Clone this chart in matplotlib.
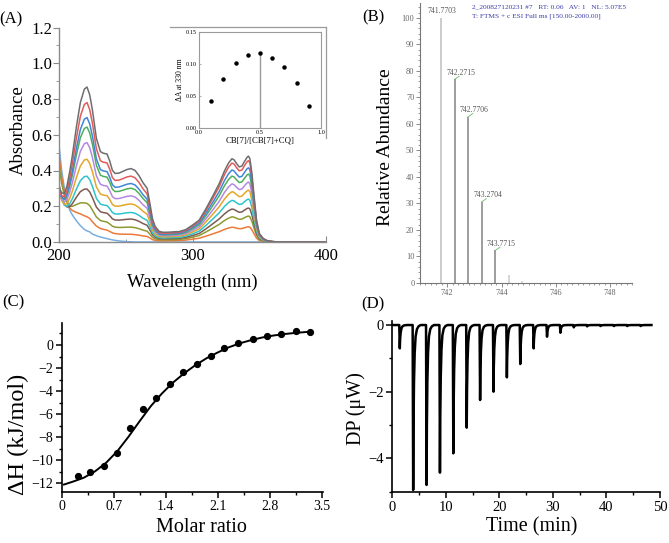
import numpy as np
import matplotlib
matplotlib.use("Agg")
import matplotlib.pyplot as plt
from matplotlib.lines import Line2D
from matplotlib.ticker import MultipleLocator

plt.rcParams['font.family'] = ['Liberation Serif', 'DejaVu Serif']
plt.rcParams['mathtext.fontset'] = 'stix'

W, H = 669, 543

# ---------------- Panel A data: UV-vis titration spectra ----------------
wavelength = [200, 202, 204, 206, 208, 210, 213, 216, 219, 221, 223, 225, 228, 231, 233, 236,
              238, 240, 242, 245, 248, 251, 254, 257, 260, 263, 266, 268, 270, 272, 275, 278,
              282, 286, 290, 295, 300, 305, 310, 315, 320, 324, 327, 329.5, 331, 333, 335, 337,
              339, 341, 342, 343, 344.5, 346, 348, 350, 353, 356, 360, 365, 370, 380, 390, 400]
# band profile of the 200-280 nm absorption (peak = 1)
uv_band = [0.27, 0.26, 0.27, 0.33, 0.43, 0.54, 0.73, 0.895, 0.985, 1.0, 0.95, 0.855, 0.67, 0.585,
           0.575, 0.57, 0.525, 0.465, 0.445, 0.448, 0.46, 0.472, 0.478, 0.466, 0.431, 0.385, 0.35,
           0.256, 0.152, 0.099, 0.064, 0.052, 0.047, 0.044, 0.04, 0.025, 0.015, 0.008, 0.003, 0,
           0, 0, 0, 0, 0, 0, 0, 0, 0, 0, 0, 0, 0, 0, 0, 0, 0, 0, 0, 0, 0, 0, 0, 0]
# band profile of the 300-360 nm absorption (peak = 1)
vis_band = [0, 0, 0, 0, 0, 0, 0, 0, 0, 0, 0, 0, 0, 0, 0, 0, 0, 0, 0, 0, 0, 0, 0, 0, 0, 0, 0, 0, 0,
            0.005, 0.01, 0.02, 0.03, 0.04, 0.05, 0.10, 0.17, 0.24, 0.38, 0.53, 0.68, 0.83, 0.92,
            0.97, 0.96, 0.915, 0.875, 0.885, 0.94, 0.99, 1.0, 0.97, 0.80, 0.55, 0.25, 0.10, 0.04,
            0.015, 0.005, 0, 0, 0, 0, 0]
# short-wavelength edge profile (bottom trace, value at 200 nm = 1)
edge_band = [1.0, 0.74, 0.56, 0.43, 0.33, 0.28, 0.22, 0.17, 0.13, 0.115, 0.105, 0.083, 0.065, 0.052,
             0.045, 0.035, 0.028, 0.022, 0.017, 0.011, 0.007, 0.004, 0.002, 0, 0, 0, 0, 0, 0, 0,
             0, 0, 0, 0, 0, 0, 0, 0, 0, 0, 0, 0, 0, 0, 0, 0, 0, 0, 0, 0, 0, 0, 0, 0, 0, 0, 0, 0,
             0, 0, 0, 0, 0, 0]
uv_peak = [0.0, 0.141, 0.216, 0.296, 0.368, 0.463, 0.556, 0.643, 0.696, 0.78, 0.867]
vis_peak = [0.0, 0.085, 0.145, 0.19, 0.24, 0.29, 0.335, 0.38, 0.415, 0.455, 0.48]
edge_amp = [0.54, 0.46, 0.38, 0.25, 0.20, 0.16, 0.14, 0.12, 0.10, 0.08, 0.07]
curve_colors = ['#79aee0', '#ec7a3a', '#8e9a30', '#7e5b52', '#2ec4cc', '#e3a72a',
                '#b488e4', '#4fae5c', '#3f86d8', '#e35a5a', '#6e6e6e']

# inset: Job plot
mole_fraction = [0.1, 0.2, 0.3, 0.4, 0.5, 0.6, 0.7, 0.8, 0.9]
delta_A = [0.042, 0.076, 0.101, 0.114, 0.117, 0.110, 0.095, 0.071, 0.035]

# ---------------- Panel B data: HRMS ----------------
mz = [741.7703, 742.2715, 742.7706, 743.2704, 743.7715, 744.27, 744.77]
abundance = [100, 76.8, 62.7, 30.6, 12.3, 3.0, 0.8]
mz_labels = ['741.7703', '742.2715', '742.7706', '743.2704', '743.7715', '', '']
ms_header = ['2_200827120231 #7   RT: 0.06   AV: 1   NL: 5.07E5',
             'T: FTMS + c ESI Full ms [150.00-2000.00]']

# ---------------- Panel C data: ITC integrated heats ----------------
molar_ratio = [0.215, 0.38, 0.57, 0.74, 0.92, 1.09, 1.27, 1.46, 1.63, 1.82, 2.01, 2.19,
               2.38, 2.57, 2.76, 2.95, 3.15, 3.34]
dH = [-11.36, -10.99, -10.47, -9.34, -7.23, -5.52, -4.63, -3.38, -2.37, -1.62, -0.93, -0.26,
      0.14, 0.52, 0.81, 0.98, 1.19, 1.16]
fit_ratio = [0.03, 0.15, 0.3, 0.45, 0.6, 0.75, 0.9, 1.05, 1.2, 1.35, 1.5, 1.65, 1.8, 1.95,
             2.1, 2.25, 2.4, 2.55, 2.7, 2.85, 3.0, 3.15, 3.34]
fit_dH = [-12.1, -11.85, -11.5, -10.95, -10.2, -9.2, -7.95, -6.6, -5.3, -4.2, -3.25, -2.45,
          -1.75, -1.15, -0.65, -0.2, 0.15, 0.42, 0.65, 0.82, 0.95, 1.05, 1.15]

# ---------------- Panel D data: ITC raw thermogram ----------------
inj_time = [1.3, 3.8, 6.3, 8.8, 11.3, 13.8, 16.3, 18.8, 21.3, 23.8, 26.3, 28.8, 31.3,
            33.8, 36.3, 38.8, 41.3, 43.8, 46.3]
inj_depth = [0.70, 4.95, 4.80, 4.43, 3.85, 3.08, 2.25, 2.00, 1.57, 1.17, 0.70, 0.35, 0.23,
             0.07, 0.04, 0.03, 0.03, 0.03, 0.03]
peak_dt = [0, 0.04, 0.1, 0.16, 0.25, 0.38, 0.55, 0.8, 1.1, 1.5]
peak_frac = [0, 0.5, 1.0, 0.62, 0.35, 0.17, 0.07, 0.025, 0.008, 0]
run_end = 48.4


def rect(l, t, r, b):
    return [l / W, 1 - b / H, (r - l) / W, (b - t) / H]


def fx(x):
    return x / W


def fy(y):
    return 1 - y / H


fig = plt.figure(figsize=(W / 100, H / 100), dpi=100)

# ======================= Panel A =======================
gray = '#8a8a8a'
axA = fig.add_axes(rect(59, 27.5, 326, 242))
wl = np.array(wavelength)
UV = np.array(uv_band)
VIS = np.array(vis_band)
EDGE = np.array(edge_band)
i_pk = wavelength.index(221)
for up, vp, ea, c in zip(uv_peak, vis_peak, edge_amp, curve_colors):
    h1 = max(up - ea * EDGE[i_pk], 0)
    axA.plot(wl, h1 * UV + vp * VIS + ea * EDGE, color=c, lw=1.1)
axA.set_xlim(200, 400)
axA.set_ylim(0, 1.2)
for s in ['top', 'right']:
    axA.spines[s].set_visible(False)
for s in ['left', 'bottom']:
    axA.spines[s].set_color(gray)
    axA.spines[s].set_linewidth(1.0)
axA.set_xticks([200, 300, 400])
axA.xaxis.set_minor_locator(MultipleLocator(50))
axA.set_yticks([0, 0.2, 0.4, 0.6, 0.8, 1.0, 1.2])
axA.set_yticklabels(['0.0', '0.2', '0.4', '0.6', '0.8', '1.0', '1.2'])
axA.yaxis.set_minor_locator(MultipleLocator(0.1))
axA.tick_params(axis='both', which='major', labelsize=12, color=gray, length=4, pad=1)
axA.tick_params(axis='both', which='minor', color=gray, length=2.5)
axA.tick_params(axis='x', which='both', direction='in', pad=4)
fig.text(fx(18), fy(130), 'Absorbance', rotation=90, ha='center', va='center', fontsize=13.5)
fig.text(fx(192), fy(282), 'Wavelength (nm)', ha='center', va='center', fontsize=13.5)
fig.text(fx(11), fy(19), '(A)', ha='center', va='center', fontsize=12)

# inset
ins = fig.add_axes(rect(199, 32, 321, 128))
ins.vlines(0.5, 0, delta_A[4], color='#9a9a9a', lw=1.0)
ins.plot(mole_fraction, delta_A, 'o', color='black', ms=2.2, ls='none')
ins.set_xlim(0, 1.0)
ins.set_ylim(0, 0.15)
ins.set_xticks([0, 0.5, 1.0])
ins.set_xticklabels(['0.0', '0.5', '1.0'])
ins.set_yticks([0, 0.05, 0.10, 0.15])
ins.set_yticklabels(['0.00', '0.05', '0.10', '0.15'])
ins.tick_params(labelsize=4.5, length=1.5, width=0.5, color=gray, direction='in', pad=1.5)
for s in ins.spines.values():
    s.set_color('#9a9a9a')
    s.set_linewidth(0.8)
ins.set_xlabel('CB[7]/[CB[7]+CQ]', fontsize=6.3, labelpad=1)
ins.set_ylabel('ΔA at 330 nm', fontsize=5.5, labelpad=1.5)
fig.add_artist(Line2D([fx(170), fx(326)], [fy(26.7), fy(26.7)], color='#9a9a9a', lw=0.9))
fig.add_artist(Line2D([fx(326), fx(326)], [fy(26.7), fy(138)], color='#9a9a9a', lw=0.9))

# ======================= Panel B =======================
axB = fig.add_axes(rect(420, 3, 632, 283))
bcol = ['#c4c4c4', '#8c8c8c', '#8c8c8c', '#8c8c8c', '#8c8c8c', '#cfcfcf', '#d5d5d5']
axB.vlines(mz, 0, abundance, colors=bcol, lw=1.2)
for i, (m, a, lab) in enumerate(zip(mz, abundance, mz_labels)):
    if not lab:
        continue
    off = 0.04 if i == 0 else 0.22
    if i > 0:
        axB.plot([m, m + 0.17], [a, a + 1.2], color='#66bb66', lw=0.6)
    axB.text(m + off, a + 1.0, lab, ha='center', va='bottom', fontsize=5.5, color='#555555')
axB.set_xlim(741.0, 748.8)
axB.set_ylim(0, 105.6)
for s in ['top', 'right']:
    axB.spines[s].set_visible(False)
for s in ['left', 'bottom']:
    axB.spines[s].set_color('#777777')
    axB.spines[s].set_linewidth(0.8)
axB.set_xticks([742, 744, 746, 748])
axB.xaxis.set_minor_locator(MultipleLocator(0.2))
axB.set_yticks(range(0, 101, 10))
axB.yaxis.set_minor_locator(MultipleLocator(2))
axB.tick_params(which='major', labelsize=6, labelcolor='#666666', color='#777777', length=3, width=0.6, pad=1)
axB.tick_params(which='minor', color='#777777', length=1.5, width=0.5)
for j, line in enumerate(ms_header):
    fig.text(fx(471.7), fy(6.7 + 10 * j), line, ha='left', va='center', fontsize=5.3, color='#3b3baa')
fig.text(fx(385), fy(147), 'Relative Abundance', rotation=90, ha='center', va='center', fontsize=14)
fig.text(fx(373), fy(17.5), '(B)', ha='center', va='center', fontsize=12)

# ======================= Panel C =======================
axC = fig.add_axes(rect(61.7, 323.3, 323.3, 491.7))
axC.plot(fit_ratio, fit_dH, color='black', lw=1.4)
axC.plot(molar_ratio, dH, 'o', color='black', ms=4.2, ls='none')
axC.set_xlim(0, 3.522)
axC.set_ylim(-12.72, 1.88)
for s in ['top', 'right']:
    axC.spines[s].set_visible(False)
for s in ['left', 'bottom']:
    axC.spines[s].set_linewidth(1.2)
axC.set_xticks([0, 0.7, 1.4, 2.1, 2.8, 3.5])
axC.set_xticklabels(['0', '0.7', '1.4', '2.1', '2.8', '3.5'])
axC.xaxis.set_minor_locator(MultipleLocator(0.35))
axC.set_yticks([0, -2, -4, -6, -8, -10, -12])
axC.yaxis.set_minor_locator(MultipleLocator(1))
axC.tick_params(which='major', labelsize=10, length=4, width=1.1, pad=2)
axC.tick_params(which='minor', length=2.5, width=1.0)
fig.text(fx(18), fy(434), 'ΔH (kJ/mol)', rotation=90, ha='center', va='center', fontsize=17.5)
fig.text(fx(201), fy(527), 'Molar ratio', ha='center', va='center', fontsize=14.5)
fig.text(fx(13), fy(302), '(C)', ha='center', va='center', fontsize=12)

# ======================= Panel D =======================
axD = fig.add_axes(rect(392.3, 320.7, 660, 492.3))
tt = [0.0]
yy = [0.0]
for t0, d in zip(inj_time, inj_depth):
    for dt, fr in zip(peak_dt, peak_frac):
        tt.append(t0 + dt)
        yy.append(-d * fr)
tt.append(run_end)
yy.append(0.0)
axD.plot(tt, yy, color='black', lw=1.8, solid_joinstyle='round')
axD.set_xlim(0, 50)
axD.set_ylim(-5.02, 0.13)
for s in ['top', 'right']:
    axD.spines[s].set_visible(False)
for s in ['left', 'bottom']:
    axD.spines[s].set_linewidth(1.2)
axD.set_xticks([0, 10, 20, 30, 40, 50])
axD.xaxis.set_minor_locator(MultipleLocator(5))
axD.set_yticks([0, -2, -4])
axD.yaxis.set_minor_locator(MultipleLocator(1))
axD.tick_params(which='major', labelsize=10.5, length=4, width=1.1, pad=2)
axD.tick_params(which='minor', length=2.5, width=1.0)
fig.text(fx(356), fy(409), 'DP (μW)', rotation=90, ha='center', va='center', fontsize=14.5)
fig.text(fx(532), fy(527), 'Time (min)', ha='center', va='center', fontsize=14.5)
fig.text(fx(373), fy(304), '(D)', ha='center', va='center', fontsize=12)

fig.savefig('out.png', dpi=100)
